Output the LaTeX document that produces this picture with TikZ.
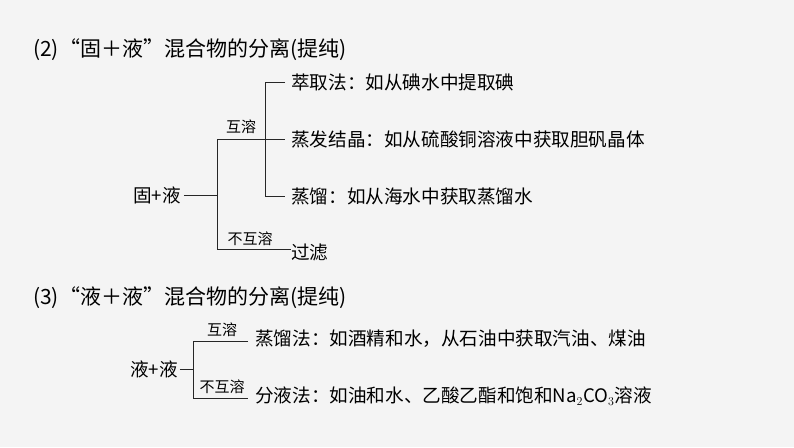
\documentclass[tikz,border=0pt]{standalone}
\usepackage{fontspec}
\setmainfont{Liberation Serif}
\newfontfamily\cjk{Noto Sans CJK SC}
\begin{document}
\begin{tikzpicture}[x=1pt,y=-1pt,
  ln/.style={line width=0.9pt,black!85},
  ttl/.style={anchor=west,font=\fontsize{21}{24}\selectfont\cjk,inner sep=0pt},
  txt/.style={anchor=west,font=\fontsize{18.6}{21}\selectfont\cjk,inner sep=0pt},
  lbl/.style={font=\fontsize{15}{17}\selectfont\cjk,inner sep=0pt}]
\fill[gray!9] (0,0) rectangle (794,447);
\useasboundingbox (0,0) rectangle (794,447);
\node[ttl] (t2) at (33,50) {(2)“固＋液”混合物的分离(提纯)};
\node[txt,anchor=center] (a) at (157,195) {固+液};
\coordinate (j1) at (217,195);
\coordinate (h1) at (217,139);
\coordinate (h2) at (265,139);
\coordinate (b1) at (217,249);
\node[txt] (e1) at (291,82) {萃取法：如从碘水中提取碘};
\node[txt] (e2) at (291,139) {蒸发结晶：如从硫酸铜溶液中获取胆矾晶体};
\node[txt] (e3) at (291,196) {蒸馏：如从海水中获取蒸馏水};
\node[txt] (e4) at (291,252) {过滤};
\draw[ln] ([xshift=3pt]a.east) -- (j1);
\draw[ln] (h2) -- (h1) -- (b1) -- (e4.west |- b1);
\draw[ln] (e1.west) ++(-6,0) -| (265,196) -- ([xshift=-6pt]e3.west);
\draw[ln] (h2) -- ([xshift=-6pt]e2.west);
\node[lbl] (l1) at (241,127) {互溶};
\node[lbl] (l2) at (250,239) {不互溶};
\node[ttl] (t3) at (33,298) {(3)“液＋液”混合物的分离(提纯)};
\node[txt,anchor=center] (c) at (154,369) {液+液};
\coordinate (k) at (193,369);
\coordinate (k1) at (193,341);
\coordinate (k2) at (193,398);
\node[txt] (f1) at (255,339) {蒸馏法：如酒精和水，从石油中获取汽油、煤油};
\node[txt] (f2) at (255,396) {分液法：如油和水、乙酸乙酯和饱和Na$_2$CO$_3$溶液};
\draw[ln] ([xshift=2pt]c.east) -- (k);
\draw[ln] (248,341) -- (k1) -- (k2) -- (248,398);
\node[lbl] (m1) at (222,330) {互溶};
\node[lbl] (m2) at (222,387) {不互溶};
\end{tikzpicture}
\end{document}
